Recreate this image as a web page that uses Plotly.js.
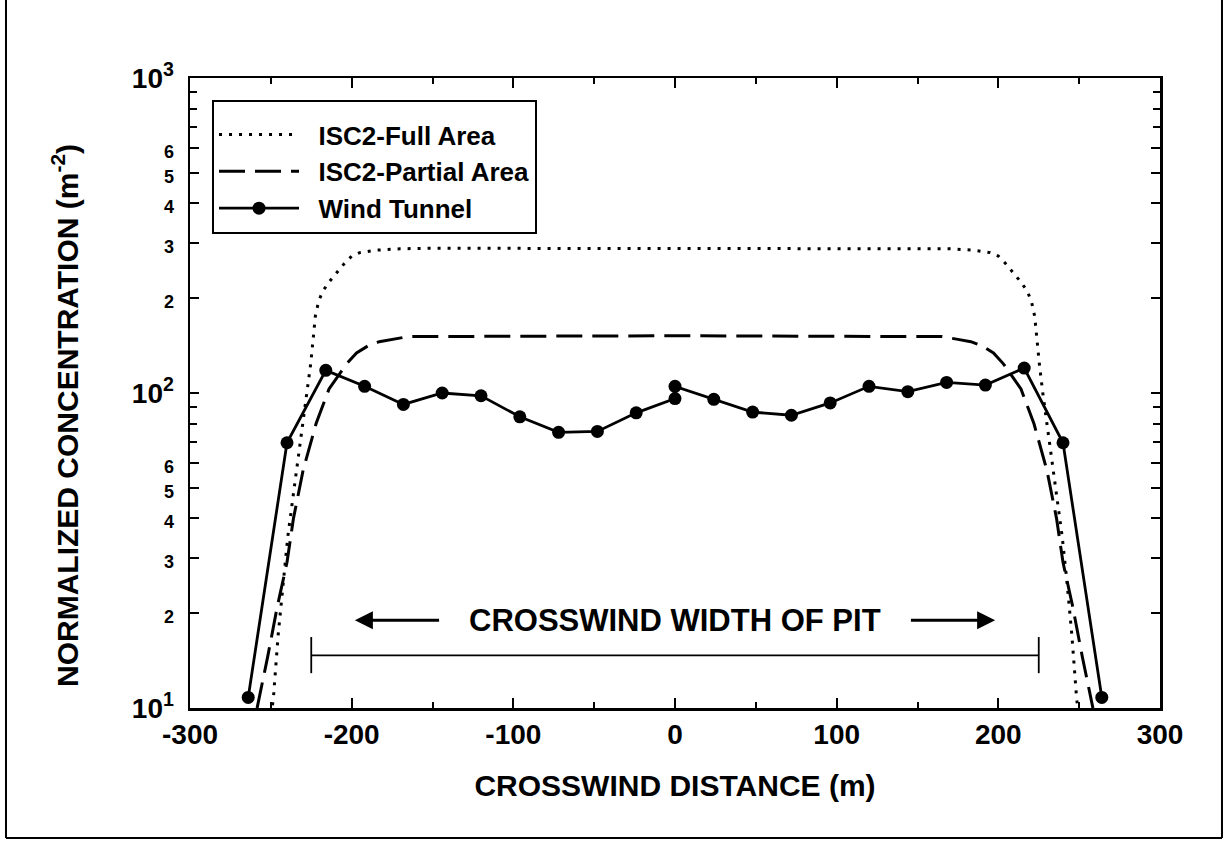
<!DOCTYPE html>
<html>
<head>
<meta charset="utf-8">
<script src="https://cdn.plot.ly/plotly-3.0.1.min.js"></script>
<style>html,body{margin:0;padding:0;background:#fff;}#chart{width:1225px;height:841px;}</style>
</head>
<body>
<div id="chart"></div>
<script>
// ---- data ----
const fullX = [-250, -248.5, -245.5, -242.5, -239.5, -236, -233, -230, -227.5, -225.5, -224, -222.5, -220.5, -218, -214, -210, -205, -200, -195, -185, -170, -150,
               0,
               150, 170, 185, 195, 200, 205, 210, 214, 218, 220.5, 222.5, 224, 225.5, 227.5, 230, 233, 236, 239.5, 242.5, 245.5, 248.5, 250];
const fullY = [9.5, 10.6, 17, 25, 35, 48, 63, 80, 100, 122, 145, 175, 195, 210, 225, 238, 256, 272, 279, 284, 287, 288,
               288,
               288, 287, 284, 279, 272, 256, 238, 225, 210, 195, 175, 145, 122, 100, 80, 63, 48, 35, 25, 17, 10.6, 9.5];

const partX = [-258.5, -252, -246, -240, -236, -230, -222, -214, -208, -203, -197, -190, -183, -175, -165,
               0,
               165, 175, 183, 190, 197, 203, 208, 214, 222, 230, 236, 240, 246, 252, 258.5];
const partY = [10, 14.5, 21, 29, 40, 57, 80, 103, 114, 124, 134, 141, 145.5, 148, 151,
               152,
               151, 148, 145.5, 141, 134, 124, 114, 103, 80, 57, 40, 29, 21, 14.5, 10];

const windX = [-264, -240, -216, -192, -168, -144, -120, -96, -72, -48, -24, 0, 0, 24, 48, 72, 96, 120, 144, 168, 192, 216, 240, 264];
const windY = [10.8, 69.5, 118, 105, 92, 100, 98, 84, 75, 75.5, 86.5, 96, 105, 95.5, 87, 85, 93, 105, 101, 108, 106, 120, 69.5, 10.8];

const seriesNames = ['ISC2-Full Area', 'ISC2-Partial Area', 'Wind Tunnel'];

const pitHalfWidth = 225;
const pitLevel = 14.7, pitTickLow = 12.9, pitTickHigh = 16.8;
const labelLevel = 19;
const arrowTail = 145, arrowHead = 198;

const xTickVals = [-300, -200, -100, 0, 100, 200, 300];
const xTickText = ['-300', '-200', '-100', '0', '100', '200', '300'];
const yTickVals = [10, 20, 30, 40, 50, 60, 100, 200, 300, 400, 500, 600, 1000];
const yTickText = ['10<sup>1</sup>', 'S2', 'S3', 'S4', 'S5', 'S6', '10<sup>2</sup>', 'S2', 'S3', 'S4', 'S5', 'S6', '10<sup>3</sup>'];
const yMinorVals = [70, 80, 90, 700, 800, 900];

const FONT = 'Liberation Sans, Arial, sans-serif';
const small = t => t.startsWith('S') ? '<span style="font-size:18px">' + t.slice(1) + '</span>' : t;
const pad = t => '&nbsp;&nbsp;' + t;

const traces = [
  {x: fullX, y: fullY, name: pad(seriesNames[0]), mode: 'lines',
   line: {color: '#000', width: 3, dash: '3px,7px'}},
  {x: partX, y: partY, name: pad(seriesNames[1]), mode: 'lines',
   line: {color: '#000', width: 3, dash: '26px,10px'}},
  {x: windX, y: windY, name: pad(seriesNames[2]), mode: 'lines+markers',
   line: {color: '#000', width: 2.8}, marker: {color: '#000', size: 13}},
  {x: [-pitHalfWidth, -pitHalfWidth, null, -pitHalfWidth, pitHalfWidth, null, pitHalfWidth, pitHalfWidth],
   y: [pitTickLow, pitTickHigh, null, pitLevel, pitLevel, null, pitTickLow, pitTickHigh],
   mode: 'lines', line: {color: '#000', width: 1.8}, showlegend: false, hoverinfo: 'skip'}
];

const L = v => Math.log10(v);

const layout = {
  width: 1225, height: 841,
  margin: {l: 190, r: 65, t: 78, b: 133},
  paper_bgcolor: '#fff', plot_bgcolor: '#fff',
  font: {family: FONT, color: '#000', weight: 'bold'},
  showlegend: true,
  legend: {x: 0.0227, y: 0.965, xanchor: 'left', yanchor: 'top',
           bordercolor: '#000', borderwidth: 2, bgcolor: '#fff',
           font: {size: 26, family: FONT, weight: 'bold'}, itemwidth: 80,
           tracegroupgap: 0,
           title: {text: '&nbsp;', font: {size: 7}}},
  xaxis: {
    range: [-300, 300], showgrid: false, zeroline: false,
    showline: true, linecolor: '#000', linewidth: 2.5, mirror: 'ticks',
    ticks: 'inside', ticklen: 10, tickwidth: 2, tickcolor: '#000',
    tickmode: 'array', tickvals: xTickVals, ticktext: xTickText,
    tickfont: {size: 28, family: FONT, weight: 'bold'},
    minor: {dtick: 50, ticks: 'inside', ticklen: 6, tickwidth: 2, tickcolor: '#000', showgrid: false},
    title: {text: 'CROSSWIND DISTANCE (m)', font: {size: 30, family: FONT, weight: 'bold'}, standoff: 26}
  },
  yaxis: {
    type: 'log', range: [1, 3], showgrid: false, zeroline: false,
    showline: true, linecolor: '#000', linewidth: 2.5, mirror: 'ticks',
    ticks: 'inside', ticklen: 9, tickwidth: 2, tickcolor: '#000',
    tickmode: 'array', tickvals: yTickVals, ticktext: yTickText.map(small),
    ticklabelstandoff: 8,
    tickfont: {size: 28, family: FONT, weight: 'bold'},
    minor: {tickmode: 'array', tickvals: yMinorVals, ticks: 'inside', ticklen: 7, tickwidth: 2, tickcolor: '#000', showgrid: false}
  },
  annotations: [
    {x: -0.1289, y: 0.465, xref: 'paper', yref: 'paper', textangle: -90, showarrow: false,
     xanchor: 'center', yanchor: 'middle',
     text: 'NORMALIZED CONCENTRATION (m<sup>-2</sup>)', font: {size: 30, family: FONT, weight: 'bold'}},
    {x: 0, y: L(labelLevel), xref: 'x', yref: 'y', text: 'CROSSWIND WIDTH OF PIT', showarrow: false,
     font: {size: 31, family: FONT, weight: 'bold'}},
    {x: -arrowHead, y: L(labelLevel), ax: -arrowTail, ay: L(labelLevel), xref: 'x', yref: 'y', axref: 'x', ayref: 'y',
     text: '', showarrow: true, arrowhead: 2, arrowsize: 1.2, arrowwidth: 3, arrowcolor: '#000'},
    {x: arrowHead, y: L(labelLevel), ax: arrowTail, ay: L(labelLevel), xref: 'x', yref: 'y', axref: 'x', ayref: 'y',
     text: '', showarrow: true, arrowhead: 2, arrowsize: 1.2, arrowwidth: 3, arrowcolor: '#000'}
  ],
  shapes: [
    {type: 'line', xref: 'paper', yref: 'paper', x0: -0.1897, x1: -0.1897, y0: -0.2063, y1: 1.13, line: {color: '#000', width: 2}},
    {type: 'line', xref: 'paper', yref: 'paper', x0: 1.0639, x1: 1.0639, y0: -0.2063, y1: 1.13, line: {color: '#000', width: 2}},
    {type: 'line', xref: 'paper', yref: 'paper', x0: -0.1897, x1: 1.0639, y0: -0.2063, y1: -0.2063, line: {color: '#000', width: 2}}
  ]
};

Plotly.newPlot('chart', traces, layout, {displayModeBar: false, staticPlot: true});
</script>
</body>
</html>
